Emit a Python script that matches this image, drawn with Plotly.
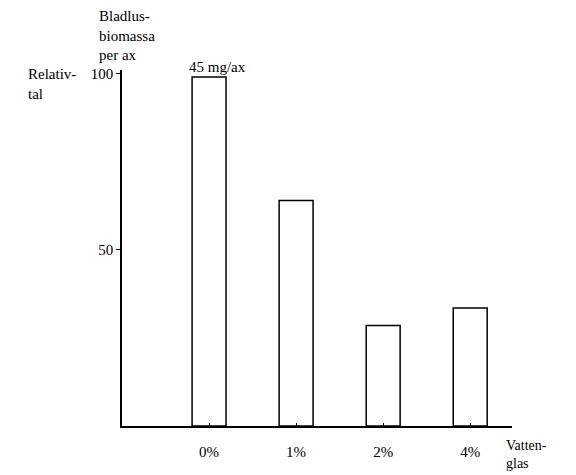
import plotly.graph_objects as go

categories = ["0%", "1%", "2%", "4%"]
values = [99, 64, 28.5, 33.5]
y_tick_vals = [50, 100]
y_tick_text = ["50", "100"]

FONT = "Liberation Serif"
FS = 15

fig = go.Figure()
fig.add_trace(go.Bar(
    x=categories, y=values, width=0.39,
    marker=dict(color="white", line=dict(color="black", width=1.5)),
    showlegend=False,
))

fig.update_layout(
    width=576, height=475,
    margin=dict(l=122, r=64, t=70, b=49, pad=0),
    paper_bgcolor="white", plot_bgcolor="white",
    font=dict(family=FONT, size=FS, color="black"),
    xaxis=dict(
        type="category", range=[-1, 3.48],
        showline=True, linecolor="black", linewidth=1.5,
        ticks="inside", ticklen=3, tickcolor="black",
        ticklabelstandoff=11, showgrid=False, zeroline=False,
        tickfont=dict(family=FONT, size=FS),
    ),
    yaxis=dict(
        range=[0, 101],
        showline=True, linecolor="black", linewidth=1.5,
        tickvals=y_tick_vals, ticktext=y_tick_text,
        ticks="outside", ticklen=4, tickcolor="black",
        showgrid=False, zeroline=False,
        tickfont=dict(family=FONT, size=FS),
    ),
    annotations=[
        dict(text="Bladlus-<br>biomassa<br>per ax", xref="paper", yref="paper",
             x=(97 - 122) / 390, y=1 + (70 - 6) / 356, xanchor="left", yanchor="top",
             align="left", showarrow=False, font=dict(family=FONT, size=FS)),
        dict(text="Relativ-<br>tal", xref="paper", yref="paper",
             x=(26 - 122) / 390, y=1 + (70 - 64) / 356, xanchor="left", yanchor="top",
             align="left", showarrow=False, font=dict(family=FONT, size=FS)),
        dict(text="45 mg/ax", xref="x", yref="y", x=categories[0], y=values[0],
             yanchor="bottom", yshift=0, xshift=8, showarrow=False,
             font=dict(family=FONT, size=FS)),
        dict(text="Vatten-<br>glas", xref="paper", yref="paper",
             x=(504 - 122) / 390, y=-(473 - 426) / 356, xanchor="left", yanchor="bottom",
             align="left", showarrow=False, font=dict(family=FONT, size=14)),
    ],
)

fig.write_html(
    "out.html",
    config={"displayModeBar": False},
    post_script="document.body.style.margin='0';document.body.style.overflow='hidden';",
)
